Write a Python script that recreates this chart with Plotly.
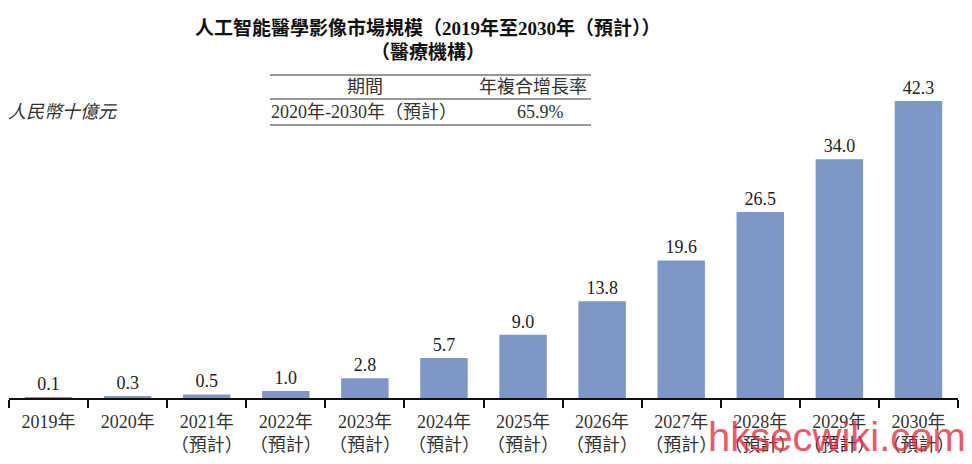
import plotly.graph_objects as go

# Data
years = ["2019年", "2020年", "2021年<br>（預計）", "2022年<br>（預計）", "2023年<br>（預計）",
         "2024年<br>（預計）", "2025年<br>（預計）", "2026年<br>（預計）", "2027年<br>（預計）",
         "2028年<br>（預計）", "2029年<br>（預計）", "2030年<br>（預計）"]
market_size = [0.1, 0.3, 0.5, 1.0, 2.8, 5.7, 9.0, 13.8, 19.6, 26.5, 34.0, 42.3]
cagr_period = "2020年-2030年（預計）"
cagr_value = "65.9%"

serif = "Liberation Serif, Noto Sans CJK TC, serif"
bar_color = "#7d97c7"

# page body has an 8px margin, so the figure is drawn 8px smaller and shifted
OFF = 8
L, R, T, B = 9, 958, 60, 398  # plot area in page pixels


def px(x):
    return (x - L) / (R - L)


def py(y):
    return (B - y) / (B - T)


fig = go.Figure(go.Bar(
    x=years, y=market_size, width=0.6,
    marker_color=bar_color, marker_line_width=0,
    text=[f"{v:.1f}" for v in market_size], textposition="outside",
    textfont=dict(family=serif, size=18, color="#222"),
    cliponaxis=False,
))

fig.update_layout(
    width=972 - OFF, height=464 - OFF,
    margin=dict(l=L - OFF, r=972 - R, t=T - OFF, b=464 - B, autoexpand=False),
    plot_bgcolor="white", paper_bgcolor="white",
    showlegend=False, bargap=0.4,
    font=dict(family=serif, color="#222"),
    xaxis=dict(
        showline=True, linecolor="#111", linewidth=2, automargin=False, tickangle=0,
        ticks="outside", tickson="boundaries", ticklen=8, tickcolor="#111", tickwidth=1.5,
        ticklabelstandoff=6,
        tickfont=dict(family=serif, size=18, color="#333"),
    ),
    yaxis=dict(range=[0, 48.15], visible=False),
)

# Title
fig.add_annotation(text="<b>人工智能醫學影像市場規模（2019年至2030年（預計））</b>",
                   xref="paper", yref="paper", x=px(428), y=py(28), xanchor="center", yanchor="middle",
                   showarrow=False, font=dict(family=serif, size=19, color="#111"))
fig.add_annotation(text="<b>（醫療機構）</b>",
                   xref="paper", yref="paper", x=px(428), y=py(52), xanchor="center", yanchor="middle",
                   showarrow=False, font=dict(family=serif, size=19, color="#111"))

# Unit label
fig.add_annotation(text="<i>人民幣十億元</i>", xref="paper", yref="paper",
                   x=px(6), xanchor="left", y=py(112), yanchor="middle",
                   showarrow=False, font=dict(family=serif, size=18, color="#333"))

# CAGR table
for yy in [75, 99, 125]:
    fig.add_shape(type="line", xref="paper", yref="paper",
                  x0=px(270), x1=px(591), y0=py(yy), y1=py(yy),
                  line=dict(color="#333", width=1.2))
table_font = dict(family=serif, size=18, color="#333")
fig.add_annotation(text="期間", xref="paper", yref="paper", x=px(365), y=py(87),
                   xanchor="center", yanchor="middle", showarrow=False, font=table_font)
fig.add_annotation(text="年複合增長率", xref="paper", yref="paper", x=px(533), y=py(87),
                   xanchor="center", yanchor="middle", showarrow=False, font=table_font)
fig.add_annotation(text=cagr_period, xref="paper", yref="paper", x=px(269), xanchor="left",
                   y=py(112), yanchor="middle", showarrow=False, font=table_font)
fig.add_annotation(text=cagr_value, xref="paper", yref="paper", x=px(540), y=py(112),
                   xanchor="center", yanchor="middle", showarrow=False, font=table_font)

# Watermark
fig.add_annotation(text="hksecwiki.com", xref="paper", yref="paper", x=px(837), y=py(437),
                   xanchor="center", yanchor="middle", showarrow=False,
                   font=dict(family="Liberation Sans, sans-serif", size=40, color="rgba(240,40,60,0.8)"))

fig.write_html("out.html")
